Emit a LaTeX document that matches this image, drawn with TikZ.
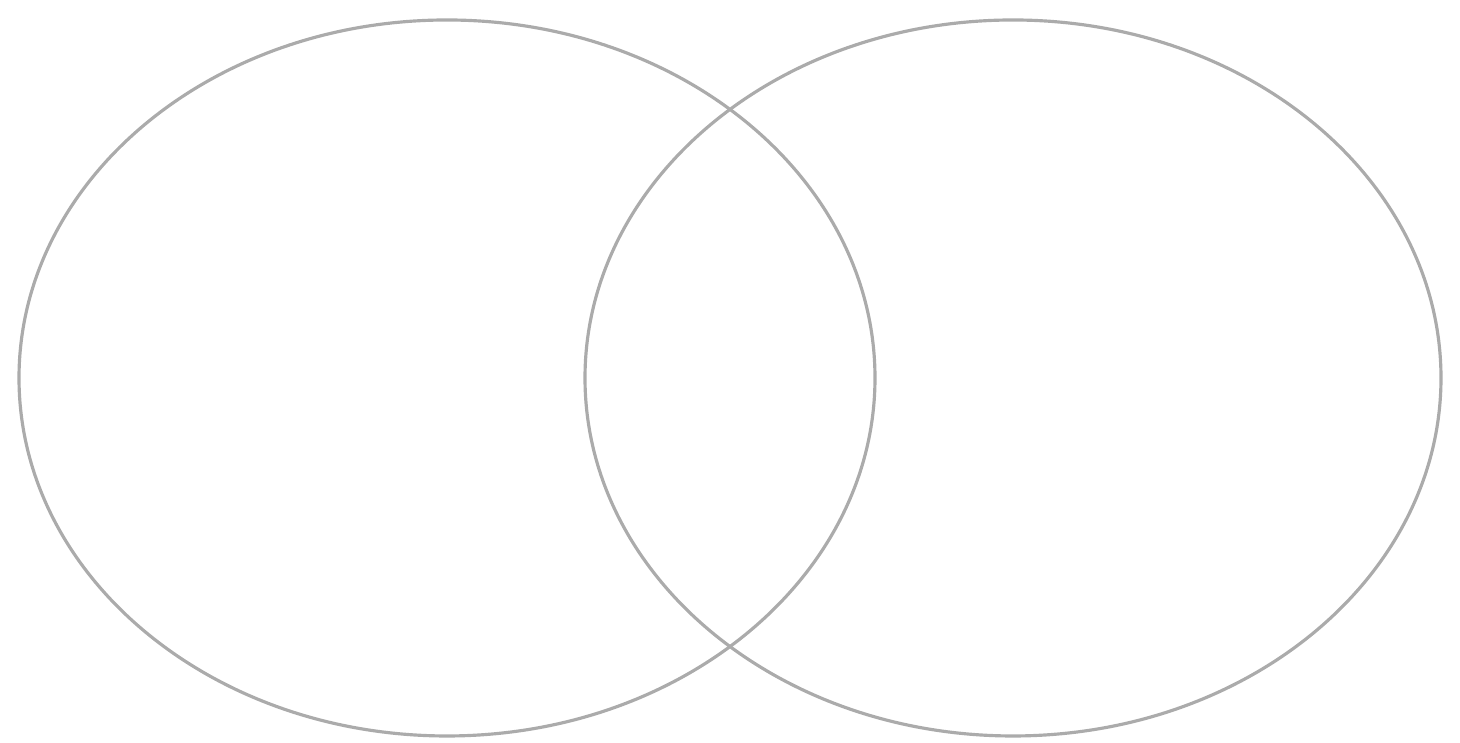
\documentclass[tikz,border=0pt]{standalone}
\usepackage{tikz}
\usetikzlibrary{calc}

\begin{document}
\begin{tikzpicture}[x=1cm,y=1cm]
% ---- frame ----
\useasboundingbox (0,0) rectangle (14.6,7.43);
\tikzset{setline/.style={draw=black!33,line width=0.9pt}}
% ---- the two sets ----
\coordinate (cA) at (4.47,3.65);
\coordinate (cB) at (10.13,3.65);
\draw[setline] (cA) ellipse [x radius=4.28, y radius=3.58];
\draw[setline] (cB) ellipse [x radius=4.28, y radius=3.58];
\end{tikzpicture}
\end{document}
